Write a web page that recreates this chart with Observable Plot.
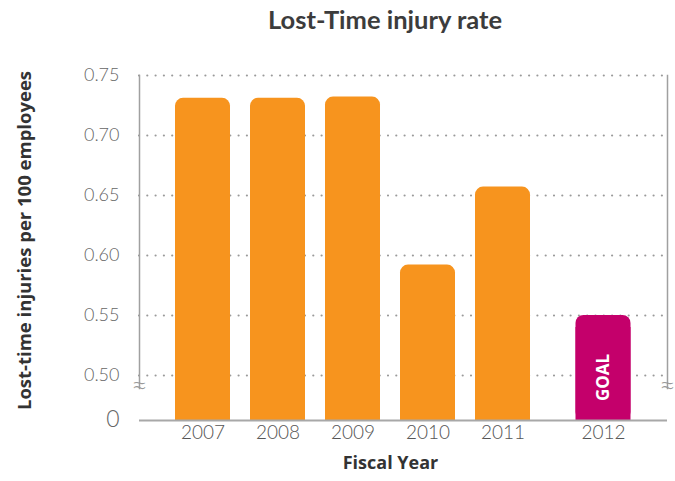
<!DOCTYPE html>
<html>
<head>
<meta charset="utf-8">
<script src="https://cdn.jsdelivr.net/npm/d3@7"></script>
<script src="https://cdn.jsdelivr.net/npm/@observablehq/plot@0.6"></script>
<style>
  html, body { margin: 0; padding: 0; background: #fff; }
  #wrap { width: 675px; height: 481px; position: relative; }
  #title { height: 50px; box-sizing: border-box; padding-top: 5px; padding-left: 268px;
           font-family: Lato, "Noto Sans", sans-serif; font-weight: 700; font-size: 25.5px;
           line-height: 28px; color: #3c3c3c; white-space: nowrap; }
  svg { display: block; }
</style>
</head>
<body>
<div id="wrap">
  <div id="title">Lost-Time injury rate</div>
  <div id="chart"></div>
</div>
<script>
const titleText = "Lost-Time injury rate";
const yLabel = "Lost-time injuries per 100 employees";
const xLabel = "Fiscal Year";
const years = ["2007", "2008", "2009", "2010", "2011"];
const rates = [0.731, 0.731, 0.732, 0.592, 0.657];
const goalYear = ["2012"];
const goalRate = [0.55];
const goalLabel = "GOAL";
const gridTicks = [0.50, 0.55, 0.60, 0.65, 0.70, 0.75];
const zeroTick = [0];

const actual = years.map((y, i) => ({year: y, rate: rates[i]}));
const goal = goalYear.map((y, i) => ({year: y, rate: goalRate[i]}));
const allYears = years.concat(goalYear);

const orange = "#F7941E";
const magenta = "#C4006B";
const goalShift = 25.5;
const boldFont = "'Open Sans', Lato, sans-serif";

const chart = Plot.plot({
  width: 675,
  height: 431,
  marginTop: 25,
  marginBottom: 61,
  marginLeft: 139,
  marginRight: 8,
  style: {fontFamily: "Lato, 'Noto Sans', sans-serif", background: "#fff"},
  x: {type: "band", domain: allYears, range: [163.8, 616.8], paddingInner: 0.27, paddingOuter: 0.135, axis: null},
  y: {type: "linear", domain: [0, 0.5, 0.75], range: [370, 325, 25], axis: null},
  marks: [
    Plot.ruleY(gridTicks, {stroke: "#9a9a9a", strokeWidth: 2.2, strokeDasharray: "0,8.3", strokeLinecap: "round"}),
    // rounded-top bars (upper part) + square lower part
    Plot.barY(actual, {x: "year", y1: 0, y2: "rate", fill: orange, rx: 8}),
    Plot.barY(actual, {x: "year", y1: 0, y2: "rate", fill: orange, insetTop: 12}),
    Plot.barY(goal, {x: "year", y1: 0, y2: "rate", fill: magenta, rx: 8, dx: goalShift}),
    Plot.barY(goal, {x: "year", y1: 0, y2: "rate", fill: magenta, insetTop: 12, dx: goalShift}),
    Plot.text(goal, {x: "year", y: () => gridTicks[0], text: () => goalLabel, dx: goalShift, dy: 2, rotate: -90,
      fill: "white", fontWeight: 700, fontSize: 17, fontFamily: boldFont}),
    Plot.ruleY(zeroTick, {stroke: "#a8a8a8", strokeWidth: 2}),
    Plot.frame({anchor: "left", insetBottom: 32, stroke: "#a0a0a0", strokeWidth: 1.5}),
    Plot.frame({anchor: "right", insetBottom: 32, stroke: "#a0a0a0", strokeWidth: 1.5}),
    Plot.text(["≈"], {frameAnchor: "bottom-left", dy: -26, fontSize: 30, fontWeight: 300, fill: "#999", textAnchor: "middle"}),
    Plot.text(["≈"], {frameAnchor: "bottom-right", dy: -26, fontSize: 30, fontWeight: 300, fill: "#999", textAnchor: "middle"}),
    // y tick labels
    Plot.text(gridTicks, {y: d => d, text: d => d3.format(".2f")(d), frameAnchor: "left", textAnchor: "end", dx: -20,
      fontSize: 18, fontWeight: 300, fill: "#666"}),
    Plot.text(zeroTick, {y: d => d, text: d => String(d), frameAnchor: "left", textAnchor: "end", dx: -20, dy: -1,
      fontSize: 23, fontWeight: 300, fill: "#666"}),
    // x tick labels
    Plot.text(years, {x: d => d, text: d => d, frameAnchor: "bottom", dy: 18, fontSize: 19, fontWeight: 300, fill: "#555"}),
    Plot.text(goalYear, {x: d => d, text: d => d, frameAnchor: "bottom", dy: 18, dx: goalShift, fontSize: 19, fontWeight: 300, fill: "#555"}),
    // axis labels
    Plot.text([xLabel], {frameAnchor: "bottom", dy: 48, dx: -13, fontSize: 18, fontWeight: 700, fill: "#333", fontFamily: boldFont}),
    Plot.text([yLabel], {frameAnchor: "left", textAnchor: "middle", dx: -114, dy: -7.5, rotate: -90, fontSize: 18.5,
      fontWeight: 700, fill: "#333", fontFamily: boldFont})
  ]
});
document.getElementById("chart").appendChild(chart);
</script>
</body>
</html>
